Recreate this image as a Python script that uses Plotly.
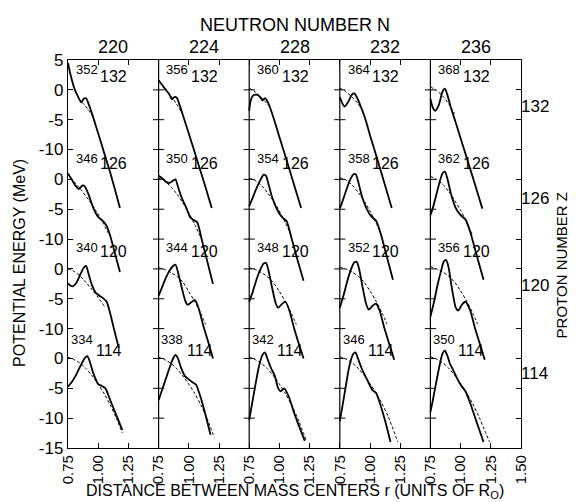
import plotly.graph_objects as go

# ---------------- data ----------------
N_values = [220, 224, 228, 232, 236]          # neutron numbers (columns)
Z_values = [132, 126, 120, 114]               # proton numbers (rows, top to bottom)
r_tick_vals = [0.75, 1.00, 1.25]              # r ticks inside each panel
r_tick_text = ["0.75", "1.00", "1.25"]
r_last_text = "1.50"
E_tick_rel = [[5, 0, -5, -10], [0, -5, -10], [0, -5, -10], [0, -5, -10, -15]]
Z_side_pos = [-2.8, -18.2, -32.8, -47.5]

# ---- Z = 132 ----
rs_220_132 = [0.75, 0.77, 0.80, 0.83, 0.86, 0.88, 0.90, 0.92, 0.96, 1.00, 1.05, 1.10, 1.14, 1.18]
Es_220_132 = [4.5, 2.6, 0.4, -1.0, -2.1, -1.5, -1.4, -2.3, -4.7, -7.3, -10.6, -13.9, -16.8, -19.8]
rd_220_132 = [0.84, 0.88, 0.92, 0.96]
Ed_220_132 = [-1.5, -2.4, -3.4, -4.6]

rs_224_132 = [0.75, 0.78, 0.81, 0.84, 0.86, 0.88, 0.90, 0.92, 0.96, 1.02, 1.08, 1.14, 1.19]
Es_224_132 = [1.6, 0.8, 0.0, -0.8, -1.6, -1.2, -1.3, -2.3, -4.8, -8.6, -12.5, -16.4, -19.8]
rd_224_132 = [0.75, 0.80, 0.85, 0.90, 0.95]
Ed_224_132 = [1.6, 0.3, -1.0, -2.4, -4.1]

rs_228_132 = [0.75, 0.76, 0.78, 0.81, 0.84, 0.86, 0.88, 0.91, 0.95, 1.00, 1.06, 1.12, 1.18]
Es_228_132 = [-3.5, -2.0, -1.0, -0.8, -1.2, -1.8, -1.4, -2.3, -4.6, -7.9, -11.8, -15.8, -19.8]
rd_228_132 = [0.75, 0.79, 0.83, 0.87, 0.91]
Ed_228_132 = [0.3, -0.2, -0.9, -1.7, -2.6]

rs_232_132 = [0.75, 0.77, 0.79, 0.82, 0.85, 0.87, 0.89, 0.92, 0.96, 1.00, 1.06, 1.12, 1.18]
Es_232_132 = [-1.2, -2.2, -2.8, -2.0, -0.8, -0.6, -1.2, -2.6, -4.8, -7.6, -11.6, -15.7, -19.8]
rd_232_132 = [0.75, 0.80, 0.85, 0.90, 0.95]
Ed_232_132 = [0.3, -0.3, -1.2, -2.3, -3.8]

rs_236_132 = [0.75, 0.77, 0.79, 0.82, 0.85, 0.87, 0.89, 0.92, 0.96, 1.00, 1.06, 1.12, 1.18]
Es_236_132 = [-1.5, -3.0, -3.5, -2.5, -0.3, 0.2, -0.8, -3.0, -5.5, -8.1, -12.0, -15.9, -19.9]
rd_236_132 = [0.75, 0.80, 0.85, 0.90, 0.95]
Ed_236_132 = [0.5, -0.1, -1.0, -2.3, -4.0]

# ---- Z = 126 ----
rs_220_126 = [0.75, 0.78, 0.81, 0.84, 0.87, 0.89, 0.92, 0.96, 1.00, 1.04, 1.07, 1.10, 1.14, 1.18]
Es_220_126 = [1.0, 0.0, -1.0, -1.6, -1.0, -1.2, -2.5, -4.8, -6.3, -7.0, -7.8, -9.5, -12.5, -15.5]
rd_220_126 = [0.75, 0.80, 0.86, 0.92, 0.98, 1.04, 1.10]
Ed_220_126 = [1.0, -0.4, -1.8, -3.4, -5.2, -7.3, -9.6]

rs_224_126 = [0.75, 0.78, 0.81, 0.84, 0.87, 0.89, 0.91, 0.94, 0.98, 1.01, 1.04, 1.07, 1.11, 1.15, 1.20]
Es_224_126 = [0.6, 0.2, -0.4, -0.6, -0.2, 0.0, -1.2, -3.0, -4.8, -6.3, -6.8, -7.2, -10.3, -13.5, -17.5]
rd_224_126 = [0.75, 0.80, 0.85, 0.90, 0.95, 1.00, 1.05, 1.10]
Ed_224_126 = [0.2, -0.3, -1.2, -2.4, -3.9, -5.6, -7.6, -9.8]

rs_228_126 = [0.75, 0.78, 0.81, 0.84, 0.87, 0.89, 0.91, 0.94, 0.98, 1.02, 1.06, 1.10, 1.15, 1.20]
Es_228_126 = [-4.5, -3.0, -1.5, -0.2, 0.8, 0.6, -0.8, -3.0, -5.0, -6.3, -7.0, -9.8, -13.5, -17.0]
rd_228_126 = [0.75, 0.80, 0.85, 0.90, 0.95, 1.00, 1.05, 1.10]
Ed_228_126 = [0.2, -0.2, -1.0, -2.2, -3.6, -5.3, -7.3, -9.5]

rs_232_126 = [0.75, 0.77, 0.80, 0.83, 0.86, 0.88, 0.90, 0.93, 0.97, 1.01, 1.05, 1.09, 1.14, 1.19]
Es_232_126 = [-4.8, -3.8, -2.0, -0.3, 0.8, 0.9, -0.2, -2.6, -4.8, -6.2, -6.9, -9.2, -13.0, -16.8]
rd_232_126 = [0.75, 0.80, 0.85, 0.90, 0.95, 1.00, 1.05, 1.10]
Ed_232_126 = [0.3, -0.1, -0.9, -2.1, -3.6, -5.3, -7.3, -9.5]

rs_236_126 = [0.75, 0.77, 0.80, 0.83, 0.85, 0.87, 0.89, 0.92, 0.96, 1.00, 1.04, 1.08, 1.13, 1.19]
Es_236_126 = [-6.0, -4.8, -2.5, -0.2, 1.0, 1.3, 0.2, -2.4, -4.8, -6.0, -6.7, -8.8, -12.5, -16.8]
rd_236_126 = [0.75, 0.80, 0.85, 0.90, 0.95, 1.00, 1.05, 1.10]
Ed_236_126 = [0.5, 0.0, -0.8, -2.0, -3.5, -5.2, -7.2, -9.4]

# ---- Z = 120 ----
rs_220_120 = [0.75, 0.77, 0.79, 0.82, 0.85, 0.88, 0.90, 0.92, 0.95, 0.98, 1.01, 1.04, 1.07, 1.10, 1.13, 1.17]
Es_220_120 = [-2.4, -2.8, -2.9, -2.3, -1.0, 0.2, 0.5, -0.8, -2.8, -4.0, -4.5, -4.9, -5.5, -7.5, -10.0, -13.2]
rd_220_120 = [0.75, 0.80, 0.85, 0.90, 0.95, 1.00, 1.05]
Ed_220_120 = [0.0, -0.4, -1.2, -2.3, -3.5, -4.8, -6.2]

rs_224_120 = [0.75, 0.78, 0.81, 0.84, 0.87, 0.89, 0.91, 0.94, 0.97, 0.99, 1.02, 1.05, 1.08, 1.12, 1.16, 1.20]
Es_224_120 = [-4.5, -3.0, -1.5, -0.3, 0.5, 0.7, -0.5, -3.0, -5.3, -6.0, -5.6, -5.2, -6.5, -9.5, -12.2, -15.0]
rd_224_120 = [0.75, 0.80, 0.85, 0.90, 0.95, 1.00, 1.05, 1.10, 1.14]
Ed_224_120 = [0.2, -0.1, -0.6, -1.2, -2.2, -3.8, -5.5, -7.5, -9.3]

rs_228_120 = [0.75, 0.78, 0.81, 0.84, 0.87, 0.89, 0.91, 0.94, 0.97, 0.99, 1.02, 1.05, 1.08, 1.12, 1.16, 1.20]
Es_228_120 = [-5.5, -3.8, -1.8, -0.2, 0.9, 1.0, -0.3, -3.2, -5.8, -6.5, -5.9, -5.5, -6.8, -9.8, -12.5, -15.0]
rd_228_120 = [0.75, 0.80, 0.85, 0.90, 0.95, 1.00, 1.05, 1.10, 1.14]
Ed_228_120 = [0.2, -0.1, -0.6, -1.3, -2.3, -3.8, -5.5, -7.5, -9.3]

rs_232_120 = [0.75, 0.78, 0.81, 0.84, 0.87, 0.89, 0.91, 0.94, 0.97, 0.99, 1.02, 1.05, 1.08, 1.12, 1.16, 1.20]
Es_232_120 = [-6.5, -4.5, -2.2, -0.2, 1.1, 1.2, 0.0, -3.2, -6.0, -6.8, -6.2, -5.8, -7.0, -10.0, -12.6, -15.2]
rd_232_120 = [0.75, 0.80, 0.85, 0.90, 0.95, 1.00, 1.05, 1.10, 1.14]
Ed_232_120 = [0.3, 0.0, -0.5, -1.2, -2.2, -3.7, -5.4, -7.4, -9.2]

rs_236_120 = [0.75, 0.78, 0.81, 0.84, 0.86, 0.88, 0.90, 0.93, 0.96, 0.98, 1.01, 1.04, 1.08, 1.12, 1.16, 1.20]
Es_236_120 = [-8.0, -5.5, -2.6, -0.2, 1.2, 1.5, 0.3, -3.5, -6.5, -7.0, -6.0, -5.5, -7.0, -10.0, -12.6, -15.2]
rd_236_120 = [0.75, 0.80, 0.85, 0.90, 0.95, 1.00, 1.05, 1.10, 1.14]
Ed_236_120 = [0.4, 0.0, -0.5, -1.2, -2.2, -3.7, -5.4, -7.4, -9.2]

# ---- Z = 114 ----
rs_220_114 = [0.75, 0.78, 0.81, 0.84, 0.87, 0.89, 0.91, 0.93, 0.96, 1.00, 1.03, 1.06, 1.10, 1.15, 1.20]
Es_220_114 = [-4.7, -4.0, -3.0, -1.8, -0.6, 0.1, 0.4, -0.5, -2.5, -4.3, -4.6, -5.0, -7.0, -9.5, -12.0]
rd_220_114 = [0.75, 0.80, 0.85, 0.90, 0.95, 1.00, 1.05, 1.10, 1.15, 1.20]
Ed_220_114 = [0.2, -0.2, -0.8, -1.7, -2.9, -4.3, -5.9, -7.8, -10.0, -12.5]

rs_224_114 = [0.75, 0.78, 0.81, 0.84, 0.87, 0.89, 0.91, 0.94, 0.97, 1.00, 1.03, 1.06, 1.09, 1.13, 1.18]
Es_224_114 = [-7.0, -5.2, -3.4, -1.6, 0.0, 0.6, 0.0, -1.8, -3.0, -3.5, -4.0, -4.4, -6.0, -8.8, -12.8]
rd_224_114 = [0.75, 0.80, 0.85, 0.90, 0.95, 1.00, 1.05, 1.10, 1.15, 1.21]
Ed_224_114 = [0.2, -0.2, -0.8, -1.7, -2.9, -4.3, -5.9, -7.8, -10.0, -13.2]

rs_228_114 = [0.75, 0.77, 0.80, 0.83, 0.86, 0.88, 0.90, 0.93, 0.96, 0.99, 1.01, 1.04, 1.08, 1.12, 1.16, 1.21]
Es_228_114 = [-10.3, -8.0, -4.6, -1.4, 0.6, 1.0, 0.0, -1.6, -2.8, -5.0, -5.5, -5.0, -6.5, -9.0, -11.2, -13.8]
rd_228_114 = [0.75, 0.80, 0.85, 0.90, 0.95, 1.00, 1.05, 1.10, 1.15, 1.22]
Ed_228_114 = [0.2, -0.2, -0.8, -1.7, -2.9, -4.3, -5.9, -7.8, -10.0, -13.6]

rs_232_114 = [0.75, 0.77, 0.80, 0.83, 0.86, 0.88, 0.90, 0.93, 0.97, 1.00, 1.02, 1.05, 1.09, 1.13, 1.17]
Es_232_114 = [-10.5, -8.2, -4.6, -1.2, 0.7, 1.0, 0.0, -1.6, -3.3, -4.6, -5.3, -5.8, -8.0, -10.8, -14.0]
rd_232_114 = [0.75, 0.80, 0.85, 0.90, 0.95, 1.00, 1.05, 1.10, 1.15, 1.23]
Ed_232_114 = [0.3, -0.1, -0.7, -1.6, -2.8, -4.2, -5.8, -7.6, -9.7, -14.0]

rs_236_114 = [0.75, 0.77, 0.80, 0.83, 0.85, 0.87, 0.89, 0.91, 0.94, 0.97, 1.00, 1.04, 1.08, 1.13, 1.19]
Es_236_114 = [-9.0, -7.0, -3.8, -0.8, 0.8, 1.3, 0.5, -0.8, -2.0, -3.3, -4.4, -5.5, -7.5, -10.5, -14.0]
rd_236_114 = [0.75, 0.80, 0.85, 0.90, 0.95, 1.00, 1.05, 1.10, 1.15, 1.24]
Ed_236_114 = [0.3, -0.1, -0.7, -1.6, -2.8, -4.2, -5.8, -7.6, -9.7, -14.0]

panels = [
    (220, 132, rs_220_132, Es_220_132, rd_220_132, Ed_220_132),
    (224, 132, rs_224_132, Es_224_132, rd_224_132, Ed_224_132),
    (228, 132, rs_228_132, Es_228_132, rd_228_132, Ed_228_132),
    (232, 132, rs_232_132, Es_232_132, rd_232_132, Ed_232_132),
    (236, 132, rs_236_132, Es_236_132, rd_236_132, Ed_236_132),
    (220, 126, rs_220_126, Es_220_126, rd_220_126, Ed_220_126),
    (224, 126, rs_224_126, Es_224_126, rd_224_126, Ed_224_126),
    (228, 126, rs_228_126, Es_228_126, rd_228_126, Ed_228_126),
    (232, 126, rs_232_126, Es_232_126, rd_232_126, Ed_232_126),
    (236, 126, rs_236_126, Es_236_126, rd_236_126, Ed_236_126),
    (220, 120, rs_220_120, Es_220_120, rd_220_120, Ed_220_120),
    (224, 120, rs_224_120, Es_224_120, rd_224_120, Ed_224_120),
    (228, 120, rs_228_120, Es_228_120, rd_228_120, Ed_228_120),
    (232, 120, rs_232_120, Es_232_120, rd_232_120, Ed_232_120),
    (236, 120, rs_236_120, Es_236_120, rd_236_120, Ed_236_120),
    (220, 114, rs_220_114, Es_220_114, rd_220_114, Ed_220_114),
    (224, 114, rs_224_114, Es_224_114, rd_224_114, Ed_224_114),
    (228, 114, rs_228_114, Es_228_114, rd_228_114, Ed_228_114),
    (232, 114, rs_232_114, Es_232_114, rd_232_114, Ed_232_114),
    (236, 114, rs_236_114, Es_236_114, rd_236_114, Ed_236_114),
]

# ---------------- layout constants ----------------
PANEL_W = 0.75     # r-width of a panel
ROW_SHIFT = 15.0   # MeV offset between rows
R0 = 0.75
FONT = "Liberation Sans, Arial, sans-serif"
A_pos = [(0.905, 3.4), (0.905, 3.5), (0.905, 3.6), (0.865, 3.1)]
Zl_pos = [(1.13, 2.3), (1.13, 2.6), (1.13, 2.9), (1.09, 1.3)]


def ann(fig, **kw):
    kw.setdefault("showarrow", False)
    kw.setdefault("xanchor", "center")
    kw.setdefault("yanchor", "middle")
    fig.add_annotation(**kw)


fig = go.Figure()

for (N, Z, rs, Es, rd, Ed) in panels:
    col = N_values.index(N)
    row = Z_values.index(Z)
    dx = col * PANEL_W
    dy = -row * ROW_SHIFT
    fig.add_trace(go.Scatter(
        x=[r + dx for r in rd], y=[e + dy for e in Ed], mode="lines",
        line=dict(color="black", width=1.0, dash="3px,2px", shape="spline", smoothing=0.8),
        hoverinfo="skip", showlegend=False))
    fig.add_trace(go.Scatter(
        x=[r + dx for r in rs], y=[e + dy for e in Es], mode="lines",
        line=dict(color="black", width=1.8, shape="spline", smoothing=0.6),
        hoverinfo="skip", showlegend=False))
    ax, ay = A_pos[row]
    zx, zy = Zl_pos[row]
    ann(fig, x=ax + dx, y=ay + dy, text=str(N + Z),
        font=dict(size=13, family=FONT, color="black"))
    ann(fig, x=zx + dx, y=zy + dy, text=str(Z),
        font=dict(size=16, family=FONT, color="black"))

# y ticks
y_vals, y_text = [], []
for row, rel in enumerate(E_tick_rel):
    for v in rel:
        y_vals.append(v - row * ROW_SHIFT)
        y_text.append(str(v))

# x ticks
x_vals, x_text = [], []
for col in range(len(N_values)):
    for v, t in zip(r_tick_vals, r_tick_text):
        x_vals.append(v + col * PANEL_W)
        x_text.append(t)
x_end = R0 + len(N_values) * PANEL_W
x_vals.append(x_end)
x_text.append(r_last_text)

y_top = max(y_vals)
y_bot = min(y_vals)

# panel dividers
for col in range(1, len(N_values)):
    xd = R0 + col * PANEL_W
    fig.add_shape(type="line", x0=xd, x1=xd, y0=y_bot, y1=y_top, xref="x", yref="y",
                  line=dict(color="black", width=1.2))
# ticks crossing the dividers
div_x, div_y = [], []
for col in range(1, len(N_values)):
    for yv in y_vals[1:-1]:
        div_x.append(R0 + col * PANEL_W)
        div_y.append(yv)
fig.add_trace(go.Scatter(x=div_x, y=div_y, mode="markers",
                         marker=dict(symbol="line-ew", size=8, line=dict(color="black", width=1)),
                         hoverinfo="skip", showlegend=False))

# neutron-number labels on top
for col, N in enumerate(N_values):
    ann(fig, x=R0 + col * PANEL_W + PANEL_W / 2, y=1.0, xref="x", yref="paper",
        yanchor="bottom", yshift=1, text=str(N),
        font=dict(size=18, family=FONT, color="black"))
# proton-number labels at right
for Z, yp in zip(Z_values, Z_side_pos):
    ann(fig, x=1.03, y=yp, xref="paper", yref="y", text=str(Z),
        font=dict(size=17, family=FONT, color="black"))

ann(fig, x=0.5, y=1.09, xref="paper", yref="paper", text="NEUTRON NUMBER N",
    font=dict(size=18, family=FONT, color="black"))
ann(fig, x=-0.106, y=0.477, xref="paper", yref="paper", text="POTENTIAL ENERGY (MeV)",
    textangle=-90, font=dict(size=16, family=FONT, color="black"))
ann(fig, x=1.09, y=0.47, xref="paper", yref="paper", text="PROTON NUMBER Z",
    textangle=-90, font=dict(size=15, family=FONT, color="black"))
ann(fig, x=0.5, y=-0.113, xref="paper", yref="paper",
    text="DISTANCE BETWEEN MASS CENTERS r (UNITS OF R<sub>O</sub>)",
    font=dict(size=16, family=FONT, color="black"))

fig.update_xaxes(range=[R0, x_end], tickvals=x_vals, ticktext=x_text, tickangle=-90,
                 ticks="inside", ticklen=5, tickcolor="black", showline=True, linecolor="black",
                 linewidth=1.3, mirror="ticks", showgrid=False, zeroline=False,
                 tickfont=dict(size=15, family=FONT, color="black"))
fig.update_yaxes(range=[y_bot, y_top], tickvals=y_vals, ticktext=y_text,
                 ticks="inside", ticklen=5, tickcolor="black", showline=True, linecolor="black",
                 linewidth=1.3, mirror="ticks", showgrid=False, zeroline=False,
                 tickfont=dict(size=17, family=FONT, color="black"))

fig.update_layout(width=576, height=502, margin=dict(l=60, r=63, t=52, b=62),
                  plot_bgcolor="white", paper_bgcolor="white", showlegend=False,
                  hovermode=False)

fig.write_html("out.html")
